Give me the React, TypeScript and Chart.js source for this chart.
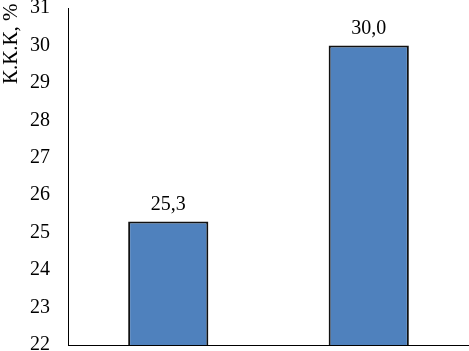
import React, { useEffect, useRef } from "react";
import { Chart, registerables } from "chart.js";

Chart.register(...registerables);

const categories = ["A", "B"];
const values = [25.3, 30.0];
const yMin = 22;
const yMax = 31;
const yTitle = "К.К.К, %";

const FONT = "'Liberation Serif', 'Times New Roman', serif";

const valueLabels = {
  id: "valueLabels",
  afterDatasetsDraw(chart: any) {
    const ctx = chart.ctx;
    const meta = chart.getDatasetMeta(0);
    ctx.save();
    ctx.font = `20px ${FONT}`;
    ctx.fillStyle = "#000";
    ctx.textAlign = "center";
    ctx.textBaseline = "bottom";
    meta.data.forEach((bar: any, i: number) => {
      const v = values[i].toFixed(1).replace(".", ",");
      ctx.fillText(v, bar.x, bar.y - 7);
    });
    ctx.restore();
  },
};

const yTitlePlugin = {
  id: "yTitlePlugin",
  afterDraw(chart: any) {
    const ctx = chart.ctx;
    ctx.save();
    ctx.font = `21px ${FONT}`;
    ctx.fillStyle = "#000";
    ctx.translate(11, 84);
    ctx.rotate(-Math.PI / 2);
    ctx.textAlign = "left";
    ctx.textBaseline = "middle";
    ctx.fillText(yTitle, 0, 0);
    ctx.restore();
  },
};

export default function App() {
  const ref = useRef<HTMLCanvasElement>(null);
  useEffect(() => {
    const chart = new Chart(ref.current!, {
      type: "bar",
      data: {
        labels: categories,
        datasets: [
          {
            data: values,
            backgroundColor: "#4F81BD",
            borderColor: "#111111",
            borderWidth: 2,
            barPercentage: 0.4,
            categoryPercentage: 1,
          },
        ],
      },
      options: {
        animation: false,
        responsive: false,
        maintainAspectRatio: false,
        layout: { padding: { top: 8, right: 0, bottom: 6, left: 0 } },
        plugins: { legend: { display: false }, tooltip: { enabled: false } },
        scales: {
          x: {
            grid: { display: false, drawTicks: false },
            border: { display: true, color: "#000", width: 1 },
            ticks: { display: false },
            afterFit(scale: any) {
              scale.height = 0;
              scale.paddingLeft = 0;
              scale.paddingRight = 0;
            },
          },
          y: {
            min: yMin,
            max: yMax,
            grid: { display: false, drawTicks: false },
            border: { display: true, color: "#000", width: 1 },
            ticks: {
              stepSize: 1,
              padding: 18,
              color: "#000",
              font: { family: FONT, size: 20 },
            },
            title: { display: false },
            afterFit(scale: any) {
              scale.width = 68;
              scale.paddingTop = 0;
              scale.paddingBottom = 0;
            },
          },
        },
      },
      plugins: [valueLabels, yTitlePlugin],
    });
    return () => chart.destroy();
  }, []);
  return (
    <div style={{ position: "fixed", left: 0, top: 0, width: 469, height: 351, background: "#fff" }}>
      <canvas ref={ref} width={469} height={351} />
    </div>
  );
}
